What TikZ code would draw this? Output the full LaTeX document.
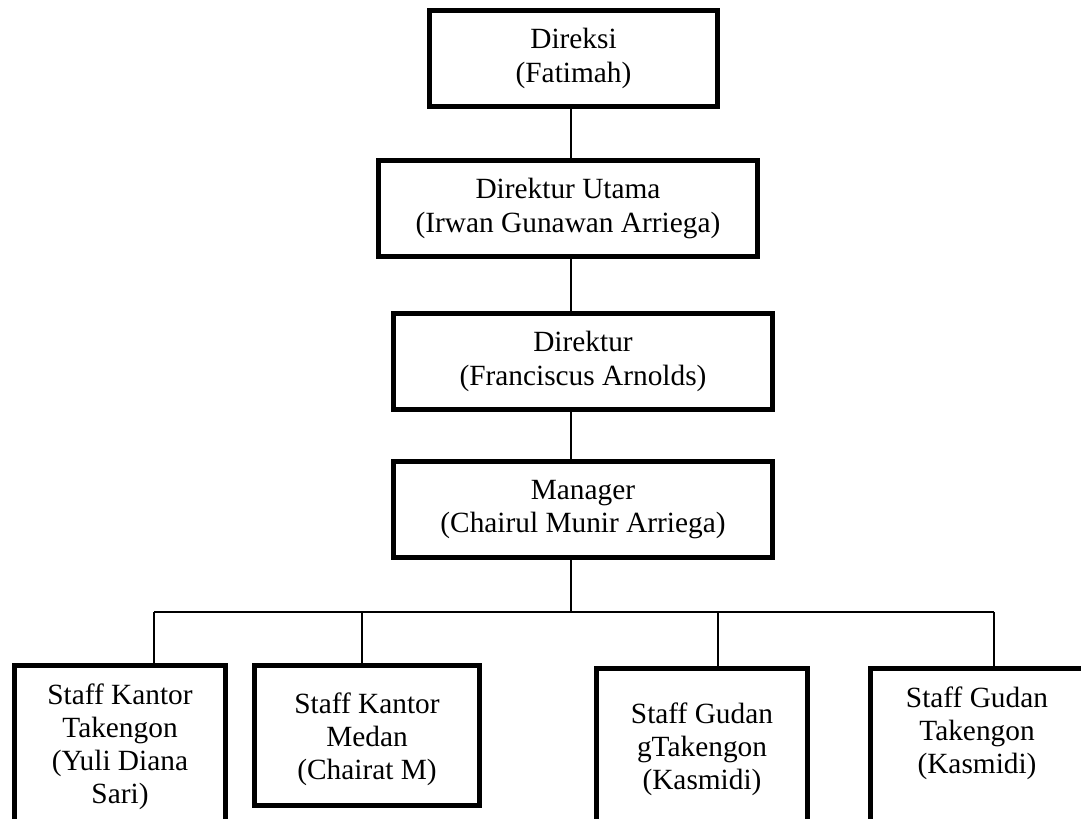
\documentclass[tikz,border=0pt]{standalone}
\usepackage{fontspec}
\setmainfont{Liberation Serif}
\usepackage{tikz}
\usetikzlibrary{positioning}
\newcommand{\orgfont}{\fontsize{16.7pt}{18.9pt}\selectfont}

\tikzset{
  orgbox/.style={draw, line width=2.85pt, minimum height=1.92cm, inner sep=0pt, align=center, font=\orgfont},
  staffbox/.style={draw, line width=2.85pt, inner sep=0pt},
  stafftext/.style={inner sep=0pt, align=center, font=\orgfont},
  link/.style={line width=1.1pt}
}

\begin{document}
\begin{tikzpicture}[x=0.02cm, y=-0.02cm]
  \useasboundingbox (0,0) rectangle (1081,818);
  \clip (0,0) rectangle (1081,818);

  % --- top of the chart ---
  \node[orgbox, minimum width=5.76cm] (direksi) at (573.5,58.5) {Direksi\\(Fatimah)};
  \node[orgbox, minimum width=7.58cm] (dirut) at (568,208.5) {Direktur Utama\\(Irwan Gunawan Arriega)};
  \node[orgbox, minimum width=7.58cm] (direktur) at (583,361.5) {Direktur\\(Franciscus Arnolds)};
  \node[orgbox, minimum width=7.58cm] (manager) at (583,509.5) {Manager\\(Chairul Munir Arriega)};

  % --- staff boxes ---
  \node[staffbox, minimum width=4.22cm, minimum height=3.49cm] (s1) at (120,752.75) {};
  \node[staffbox, minimum width=4.5cm, minimum height=2.8cm] (s2) at (367,735.5) {};
  \node[staffbox, minimum width=4.22cm, minimum height=3.43cm] (s3) at (702,754.25) {};
  \node[staffbox, minimum width=4.26cm, minimum height=3.43cm] (s4) at (977,754.25) {};

  \node[stafftext, below=0.4cm of s1.north] (s1t) {Staff Kantor\\Takengon\\(Yuli Diana\\Sari)};
  \node[stafftext, below=0.58cm of s2.north] (s2t) {Staff Kantor\\Medan\\(Chairat M)};
  \node[stafftext, below=0.72cm of s3.north] (s3t) {Staff Gudan\\gTakengon\\(Kasmidi)};
  \node[stafftext, below=0.4cm of s4.north] (s4t) {Staff Gudan\\Takengon\\(Kasmidi)};

  % --- connectors ---
  \coordinate (spine) at (571,612);
  \coordinate (d1) at (154,612);
  \coordinate (d2) at (362,612);
  \coordinate (d3) at (718,612);
  \coordinate (d4) at (994,612);

  \draw[link] (spine |- direksi.south) -- (spine |- dirut.north);
  \draw[link] (spine |- dirut.south) -- (spine |- direktur.north);
  \draw[link] (spine |- direktur.south) -- (spine |- manager.north);
  \draw[link] (spine |- manager.south) -- (spine);
  \draw[link] (d1) -- (d4);
  \draw[link] (d1) -- (d1 |- s1.north);
  \draw[link] (d2) -- (d2 |- s2.north);
  \draw[link] (d3) -- (d3 |- s3.north);
  \draw[link] (d4) -- (d4 |- s4.north);
\end{tikzpicture}
\end{document}
